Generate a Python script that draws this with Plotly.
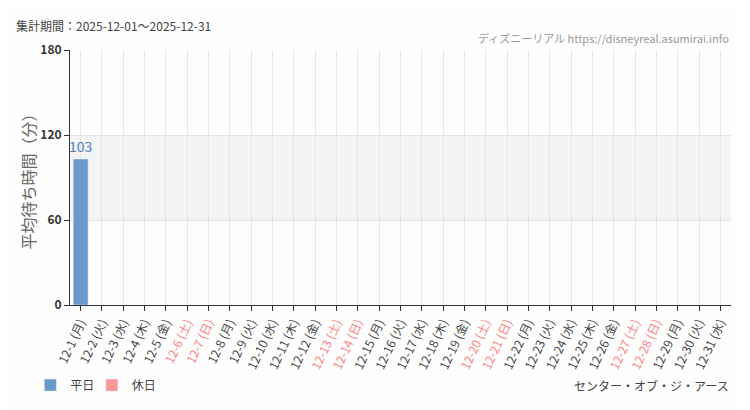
import plotly.graph_objects as go

days = [f"12-{d}" for d in range(1, 32)]
weekdays_jp = ["月", "火", "水", "木", "金", "土", "日"]
dow = [weekdays_jp[(i) % 7] for i in range(31)]  # 2025-12-01 is Monday
holiday_flags = [w in ("土", "日") for w in dow]
weekday_vals = [103] + [None] * 30
holiday_vals = [None] * 31

tick_labels = []
for d, w, h in zip(days, dow, holiday_flags):
    color = "#ff8080" if h else "#444444"
    tick_labels.append(f"<span style='color:{color}'>{d} ({w})</span>")

fig = go.Figure()
fig.add_trace(go.Bar(
    x=days, y=weekday_vals, name="平日", marker_color="#6a9ac8",
    text=[str(v) if v is not None else "" for v in weekday_vals],
    textposition="outside", textfont=dict(color="#4a80bd", size=14),
    constraintext="none", cliponaxis=False, width=0.7, legend="legend",
))
fig.add_trace(go.Bar(
    x=days, y=holiday_vals, name="休日", marker_color="#ff9696", width=0.7,
    legend="legend2",
))

fig.add_shape(type="rect", xref="paper", yref="y", x0=0, x1=1, y0=60, y1=120,
              fillcolor="#f4f4f4", line_width=0, layer="below")

legend_common = dict(orientation="h", yref="paper", y=-0.314, xref="paper",
                     xanchor="left", yanchor="middle",
                     font=dict(size=12, color="#444"), itemwidth=30,
                     bgcolor="rgba(0,0,0,0)")

fig.update_layout(
    width=750, height=410,
    margin=dict(l=62, r=27, t=42, b=113, autoexpand=False),
    paper_bgcolor="#fdfefd", plot_bgcolor="#fdfefd",
    font=dict(family="Noto Sans CJK JP, Roboto, sans-serif", color="#444444", size=12),
    barmode="overlay",
    showlegend=True,
    legend=dict(x=-0.06, **legend_common),
    legend2=dict(x=0.033, **legend_common),
    annotations=[
        dict(text="集計期間：2025-12-01～2025-12-31", xref="paper", yref="paper",
             x=-0.084, y=1.098, xanchor="left", yanchor="middle", showarrow=False,
             font=dict(size=12, color="#444")),
        dict(text="ディズニーリアル https://disneyreal.asumirai.info", xref="paper", yref="paper",
             x=1.0, y=1.047, xanchor="right", yanchor="middle", showarrow=False,
             font=dict(size=11, color="#999999")),
        dict(text="センター・オブ・ジ・アース", xref="paper", yref="paper",
             x=1.0, y=-0.314, xanchor="right", yanchor="middle", showarrow=False,
             font=dict(size=12, color="#444")),
    ],
)
fig.update_xaxes(
    type="category", categoryorder="array", categoryarray=days,
    tickvals=days, ticktext=tick_labels, tickangle=-65, automargin=False,
    showline=True, linecolor="#333", linewidth=1,
    ticks="outside", ticklen=5, tickcolor="#333",
    showgrid=True, gridcolor="#e6e6e6", tickfont=dict(size=12),
)
fig.update_yaxes(
    range=[0, 180], tickvals=[0, 60, 120, 180], automargin=False,
    showline=True, linecolor="#333", linewidth=1,
    ticks="outside", ticklen=5, tickcolor="#333",
    showgrid=True, gridcolor="#e6e6e6", zeroline=False,
    title=dict(text="平均待ち時間（分）", font=dict(size=16, color="#666"), standoff=0),
    tickfont=dict(size=12, color="#333", weight="bold"),
)
fig.write_html("out.html")
